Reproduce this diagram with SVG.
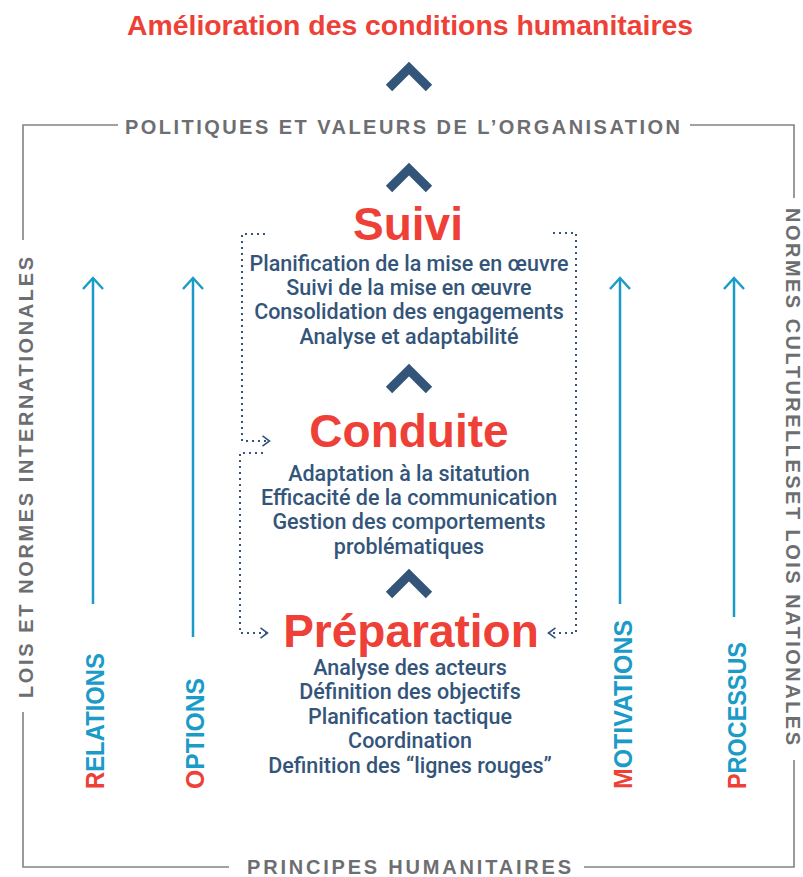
<svg xmlns="http://www.w3.org/2000/svg" width="803" height="877" viewBox="0 0 803 877">
  <defs>
    <style>
      .title { font-family: "Liberation Sans", Arial, sans-serif; font-weight: 700; fill: #ee4037; text-anchor: middle; }
      .stage { font-family: "Liberation Sans", Arial, sans-serif; font-weight: 700; font-size: 46px; fill: #ee4037; text-anchor: middle; }
      .item { font-family: Roboto, "Liberation Sans", sans-serif; font-weight: 500; font-size: 21.5px; fill: #34557a; text-anchor: middle; }
      .frame-label { font-family: "Liberation Sans", Arial, sans-serif; font-weight: 700; font-size: 20px; fill: #6d6e71; }
      .side { font-family: "Liberation Sans", Arial, sans-serif; font-weight: 700; font-size: 25px; fill: #1b9bc7; }
      .side .first { fill: #ee4037; }
      .frame { fill: none; stroke: #818285; stroke-width: 1.6; }
      .chevron { fill: none; stroke: #34557a; stroke-width: 9; stroke-linejoin: miter; stroke-linecap: butt; }
      .flow { fill: none; stroke: #34557a; stroke-width: 2; stroke-dasharray: 2 4; }
      .up { fill: none; stroke: #1b9bc7; stroke-width: 2.5; }
    </style>
    <marker id="dot-head" viewBox="0 0 10 12" refX="9" refY="6" markerWidth="10" markerHeight="12" markerUnits="userSpaceOnUse" orient="auto">
      <path d="M1.5,0.8 L8.5,6 L1.5,11.2" fill="none" stroke="#34557a" stroke-width="1.6"/>
    </marker>
    <marker id="up-head" viewBox="0 0 14 24" refX="12" refY="12" markerWidth="14" markerHeight="24" markerUnits="userSpaceOnUse" orient="auto">
      <path d="M1,2 L12,12 L1,22" fill="none" stroke="#1b9bc7" stroke-width="2.5"/>
    </marker>
    <path id="chev" d="M-20,20 L0,0 L20,20"/>
  </defs>

  <rect width="803" height="877" fill="#ffffff"/>

  <!-- goal -->
  <g id="goal">
    <text class="title" x="410" y="35" font-size="28" textLength="566" lengthAdjust="spacingAndGlyphs">Amélioration des conditions humanitaires</text>
  </g>

  <!-- outer frame and its four labels -->
  <g id="frame">
    <polyline class="frame" points="118,125 23,125 23,240"/>
    <polyline class="frame" points="690,125 794,125 794,198"/>
    <polyline class="frame" points="23,712 23,867 229,867"/>
    <polyline class="frame" points="584,867 794,867 794,760"/>
    <text class="frame-label" x="125" y="134" textLength="555" lengthAdjust="spacing">POLITIQUES ET VALEURS DE L’ORGANISATION</text>
    <text class="frame-label" x="247" y="874" textLength="324" lengthAdjust="spacing">PRINCIPES HUMANITAIRES</text>
    <text class="frame-label" transform="translate(33,698) rotate(-90)" textLength="441" lengthAdjust="spacing">LOIS ET NORMES INTERNATIONALES</text>
    <text class="frame-label" transform="translate(786,208) rotate(90)" textLength="537" lengthAdjust="spacing">NORMES CULTURELLESET LOIS NATIONALES</text>
  </g>

  <!-- upward chevrons between stages -->
  <g id="chevrons" class="chevron">
    <use href="#chev" x="409" y="68"/>
    <use href="#chev" x="409" y="169"/>
    <use href="#chev" x="409" y="370"/>
    <use href="#chev" x="409" y="575"/>
  </g>

  <g id="suivi">
    <text class="stage" x="408" y="240">Suivi</text>
    <text class="item" x="409" y="271">Planification de la mise en œuvre</text>
    <text class="item" x="409" y="295">Suivi de la mise en œuvre</text>
    <text class="item" x="409" y="319">Consolidation des engagements</text>
    <text class="item" x="409" y="344">Analyse et adaptabilité</text>
  </g>

  <g id="conduite">
    <text class="stage" x="409" y="447">Conduite</text>
    <text class="item" x="409" y="481">Adaptation à la sitatution</text>
    <text class="item" x="409" y="505">Efficacité de la communication</text>
    <text class="item" x="409" y="529">Gestion des comportements</text>
    <text class="item" x="409" y="554">problématiques</text>
  </g>

  <g id="preparation">
    <text class="stage" x="411" y="647">Préparation</text>
    <text class="item" x="410" y="675">Analyse des acteurs</text>
    <text class="item" x="410" y="699">Définition des objectifs</text>
    <text class="item" x="410" y="724">Planification tactique</text>
    <text class="item" x="410" y="748">Coordination</text>
    <text class="item" x="410" y="773">Definition des “lignes rouges”</text>
  </g>

  <!-- feedback loops (dotted) -->
  <g id="connectors">
    <path class="flow" d="M265,234 H242 V441 H270" marker-end="url(#dot-head)"/>
    <path class="flow" d="M263,453 H240 V633 H268" marker-end="url(#dot-head)"/>
    <path class="flow" d="M553,233 H576 V633 H548" marker-end="url(#dot-head)"/>
  </g>

  <!-- side dimensions with upward arrows -->
  <g id="relations">
    <path class="up" d="M93,604 V278" marker-end="url(#up-head)"/>
    <text class="side" transform="translate(104,789) rotate(-90)" textLength="136" lengthAdjust="spacingAndGlyphs"><tspan class="first">R</tspan>ELATIONS</text>
  </g>
  <g id="options">
    <path class="up" d="M193,637 V278" marker-end="url(#up-head)"/>
    <text class="side" transform="translate(204,789) rotate(-90)" textLength="111" lengthAdjust="spacingAndGlyphs"><tspan class="first">O</tspan>PTIONS</text>
  </g>
  <g id="motivations">
    <path class="up" d="M620,604 V278" marker-end="url(#up-head)"/>
    <text class="side" transform="translate(632,789) rotate(-90)" textLength="169" lengthAdjust="spacingAndGlyphs"><tspan class="first">M</tspan>OTIVATIONS</text>
  </g>
  <g id="processus">
    <path class="up" d="M734,617 V278" marker-end="url(#up-head)"/>
    <text class="side" transform="translate(746,789) rotate(-90)" textLength="147" lengthAdjust="spacingAndGlyphs"><tspan class="first">P</tspan>ROCESSUS</text>
  </g>
</svg>
